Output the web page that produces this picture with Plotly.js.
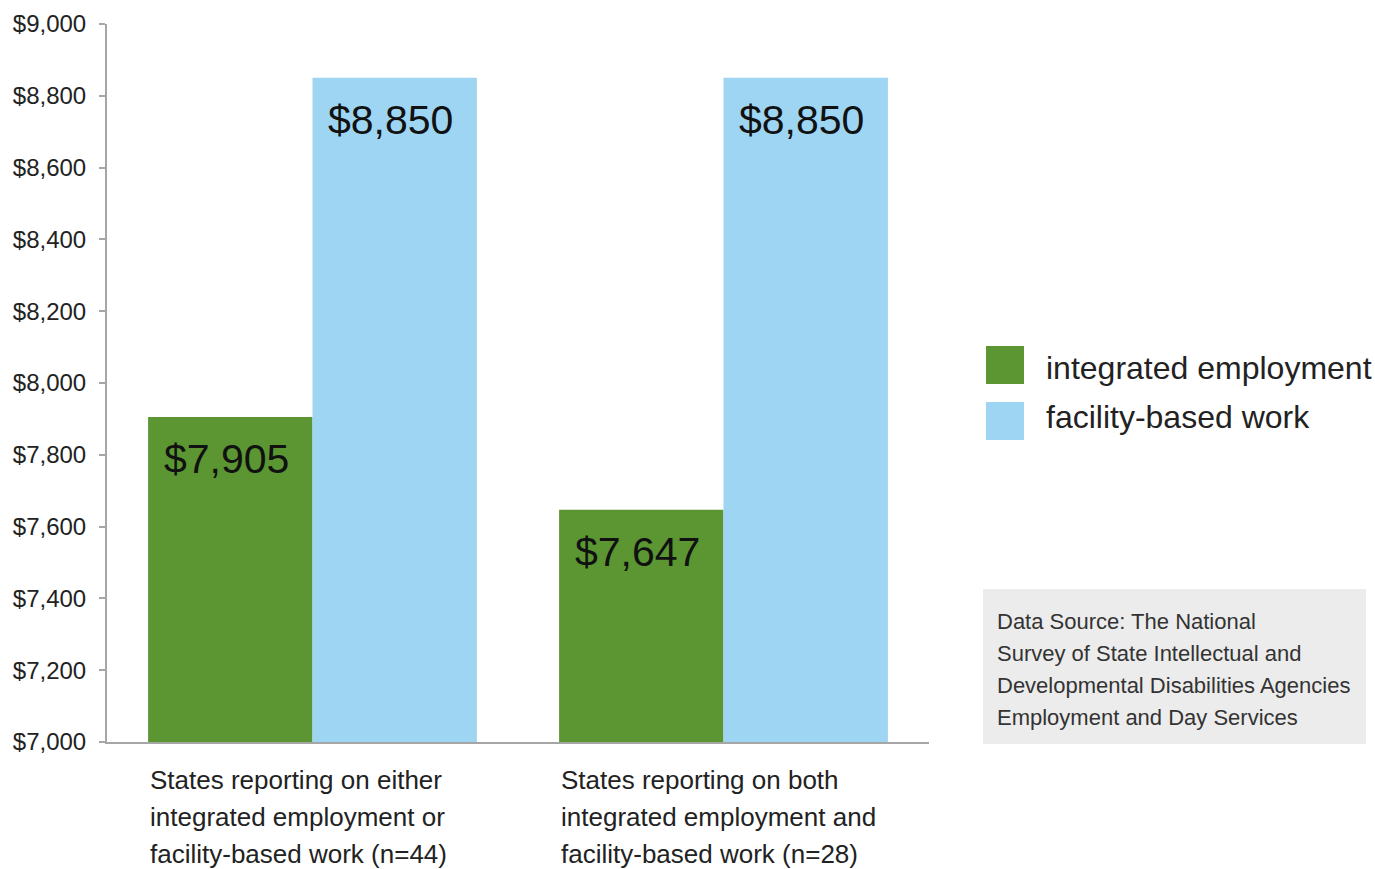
<!DOCTYPE html>
<html>
<head>
<meta charset="utf-8">
<script src="https://cdn.plot.ly/plotly-3.0.1.min.js"></script>
<style>
html,body{margin:0;padding:0;background:#fff;}
#chart{width:1375px;height:869px;}
</style>
</head>
<body>
<div id="chart"></div>
<script>
// ---- data ----
const categories = [
  "States reporting on either<br>integrated employment or<br>facility-based work (n=44)",
  "States reporting on both<br>integrated employment and<br>facility-based work (n=28)"
];
const seriesNames = ["integrated employment", "facility-based work"];
const integratedEmployment = [7905, 7647];
const facilityBasedWork = [8850, 8850];
const yRange = [7000, 9000];
const sourceNote = [
  "Data Source: The National",
  "Survey of State Intellectual and",
  "Developmental Disabilities Agencies",
  "Employment and Day Services"
];

// ---- layout helpers ----
const W = 1375, H = 869;
const M = {l: 107, r: 446, t: 24, b: 127};
const PW = W - M.l - M.r, PH = H - M.t - M.b;
const px = v => (v - M.l) / PW;
const py = v => (H - M.b - v) / PH;

const FONT = "Liberation Sans, Arial, sans-serif";
const GREEN = "#5b9632";
const BLUE = "#9dd5f2";
const AXIS = "#a6a6a6";
const colors = [GREEN, BLUE];
const allSeries = [integratedEmployment, facilityBasedWork];

const bargap = 0.2;
const barW = (1 - bargap) / allSeries.length;

const traces = allSeries.map((vals, s) => ({
  type: "bar",
  name: seriesNames[s],
  x: categories,
  y: vals,
  marker: {color: colors[s]},
  showlegend: false,
  hoverinfo: "skip"
}));

const fmt = v => "$" + v.toLocaleString("en-US");

const annotations = [];
// value labels inside bars
allSeries.forEach((vals, s) => {
  vals.forEach((v, i) => {
    annotations.push({
      x: i - (1 - bargap) / 2 + barW * (s + 0.5) - 0.01,
      y: v, xref: "x", yref: "y",
      text: fmt(v), showarrow: false,
      yanchor: "top", xanchor: "center", yshift: -17,
      font: {family: FONT, size: 41, color: "#111"}
    });
  });
});
// category labels (left aligned under each group), one annotation per line
categories.forEach((c, i) => {
  c.split("<br>").forEach((line, k) => {
    annotations.push({
      x: i - (1 - bargap) / 2, y: py(780 + 37 * k), xref: "x", yref: "paper",
      xanchor: "left", yanchor: "middle", align: "left",
      text: line, showarrow: false,
      font: {family: FONT, size: 26, color: "#222"}
    });
  });
});
// custom legend
const shapes = [];
seriesNames.forEach((n, s) => {
  const top = 346 + s * 56;
  shapes.push({
    type: "rect", xref: "paper", yref: "paper",
    x0: px(986), x1: px(1024), y0: py(top + 38), y1: py(top),
    fillcolor: colors[s], line: {width: 0}
  });
  annotations.push({
    x: px(1044), y: py(368 + s * 49), xref: "paper", yref: "paper",
    xanchor: "left", yanchor: "middle", text: n, showarrow: false,
    font: {family: FONT, size: 32, color: "#222"}
  });
});
// data source box
shapes.push({
  type: "rect", xref: "paper", yref: "paper",
  x0: px(983), x1: px(1366), y0: py(744), y1: py(589),
  fillcolor: "#ececec", line: {width: 0}, layer: "below"
});
sourceNote.forEach((line, k) => {
  annotations.push({
    x: px(995), y: py(621 + 32 * k), xref: "paper", yref: "paper",
    xanchor: "left", yanchor: "middle", align: "left",
    text: line, showarrow: false,
    font: {family: FONT, size: 22, color: "#333"}
  });
});

const layout = {
  width: W, height: H,
  margin: M,
  paper_bgcolor: "#fff", plot_bgcolor: "#fff",
  barmode: "group", bargap: bargap, bargroupgap: 0,
  showlegend: false,
  font: {family: FONT, color: "#222"},
  xaxis: {
    type: "category",
    showticklabels: false, ticks: "",
    showline: true, linecolor: AXIS, linewidth: 2,
    showgrid: false, zeroline: false, fixedrange: true
  },
  yaxis: {
    range: yRange, dtick: 200, tick0: 7000,
    tickprefix: "$", tickformat: ",d",
    ticks: "outside", ticklen: 6, tickcolor: AXIS, tickwidth: 2,
    ticklabelstandoff: 8,
    showline: true, linecolor: AXIS, linewidth: 2,
    showgrid: false, zeroline: false,
    tickfont: {family: FONT, size: 24, color: "#222"},
    fixedrange: true
  },
  shapes: shapes,
  annotations: annotations
};

Plotly.newPlot("chart", traces, layout, {displayModeBar: false, staticPlot: true});
</script>
</body>
</html>
